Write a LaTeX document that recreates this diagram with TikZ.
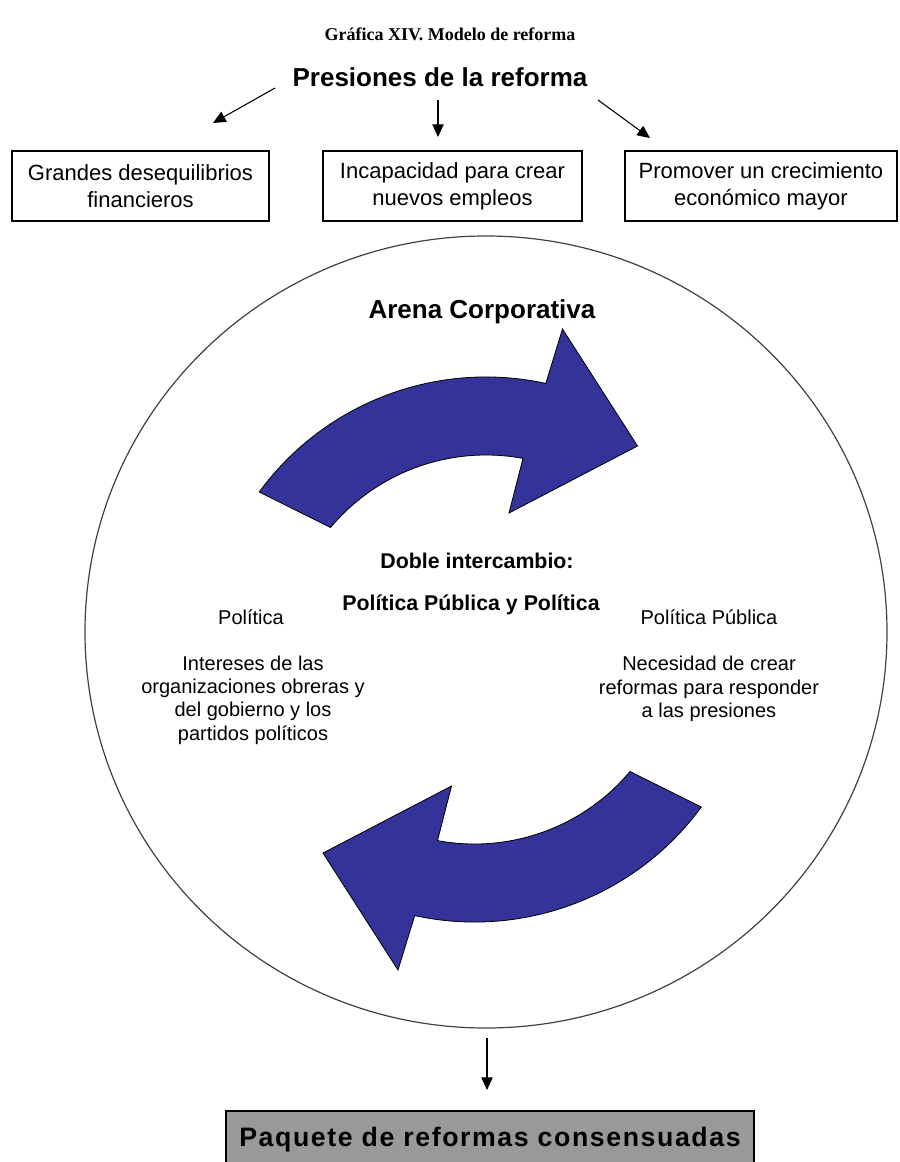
\documentclass[tikz,border=0pt]{standalone}
\usepackage{fontspec}
\setmainfont{Liberation Sans}
\newfontfamily\titulofont{Liberation Serif}
\usetikzlibrary{arrows.meta}

\definecolor{azulflecha}{RGB}{51,51,153}
\definecolor{grispaquete}{RGB}{153,153,153}

% curved block arrow of the arena, its arcs drawn around (486,-658)
\newcommand{\flechacurva}{%
  \filldraw[curvo] (259.2,-492) arc[start angle=143.8, end angle=77.7, radius=281]
    -- (562.5,-329) -- (637.5,-446) -- (509,-513)
    -- (523,-458.4) arc[start angle=79.5, end angle=140, radius=203] -- cycle;
}

\begin{document}
\begin{tikzpicture}[x=0.75pt, y=0.75pt,
    flecha/.style={-{Triangle[length=9.5pt,width=8.5pt]}, line width=0.8pt},
    caja/.style={draw, line width=0.9pt, align=center, inner sep=0pt,
      font=\fontsize{16.5}{20}\selectfont},
    texto/.style={align=center, inner sep=0pt, font=\fontsize{15}{17.5}\selectfont},
    negrita/.style={inner sep=0pt, font=\bfseries\fontsize{16}{18}\selectfont},
    curvo/.style={fill=azulflecha, draw=black, line width=0.6pt, line join=miter}]
    \clip (0,0) rectangle (899,-1162);

    \node[font=\titulofont\bfseries\fontsize{13.5}{15}\selectfont] (titulo) at (450,-34) {Gráfica XIV. Modelo de reforma};
    \node[font=\bfseries\fontsize{19.5}{22}\selectfont] (presiones) at (440,-77) {Presiones de la reforma};

    \node[caja, minimum width=257*0.75pt, minimum height=70*0.75pt] (caja1) at (140.5,-186) {Grandes desequilibrios\\financieros};
    \node[caja, minimum width=259*0.75pt, minimum height=70*0.75pt] (caja2) at (452.5,-186) {Incapacidad para crear\\nuevos empleos};
    \node[caja, minimum width=272*0.75pt, minimum height=70*0.75pt] (caja3) at (761,-186) {Promover un crecimiento\\económico mayor};

    \coordinate (p1) at (275,-88);
    \coordinate (p2) at (438,-100);
    \coordinate (p3) at (598,-100);
    \coordinate (c1) at (213,-123);
    \coordinate (c2) at (438,-137);
    \coordinate (c3) at (650,-138);
    \draw[flecha] (p1) -- (c1);
    \draw[flecha] (p2) -- (c2);
    \draw[flecha] (p3) -- (c3);

    % the arena
    \draw[line width=0.9pt, black!75] (486,-632) ellipse (401 and 396);
    \node[font=\bfseries\fontsize{19.5}{22}\selectfont] (arena) at (482,-312) {Arena Corporativa};

    \flechacurva
    \begin{scope}[rotate around={180:(480.25,-649.5)}]
      \flechacurva
    \end{scope}

    \node[negrita] (doble) at (477,-561) {Doble intercambio:};
    \node[negrita] (ppp) at (471,-605) {Política Pública y Política};

    \node[texto] (politica) at (251,-617) {Política};
    \node[texto] (intereses) at (253,-700) {Intereses de las\\organizaciones obreras y\\del gobierno y los\\partidos políticos};
    \node[texto] (publica) at (709,-617) {Política Pública};
    \node[texto] (necesidad) at (709,-689) {Necesidad de crear\\reformas para responder\\a las presiones};

    \node[draw, fill=grispaquete, line width=0.9pt, minimum width=528*0.75pt, minimum height=58*0.75pt,
      font=\bfseries\fontsize{20}{24}\selectfont\addfontfeatures{LetterSpace=6}] (paquete) at (490,-1140) {Paquete de reformas consensuadas};

    \coordinate (s1) at (487,-1038);
    \coordinate (s2) at (487,-1090);
    \draw[flecha] (s1) -- (s2);
\end{tikzpicture}
\end{document}
